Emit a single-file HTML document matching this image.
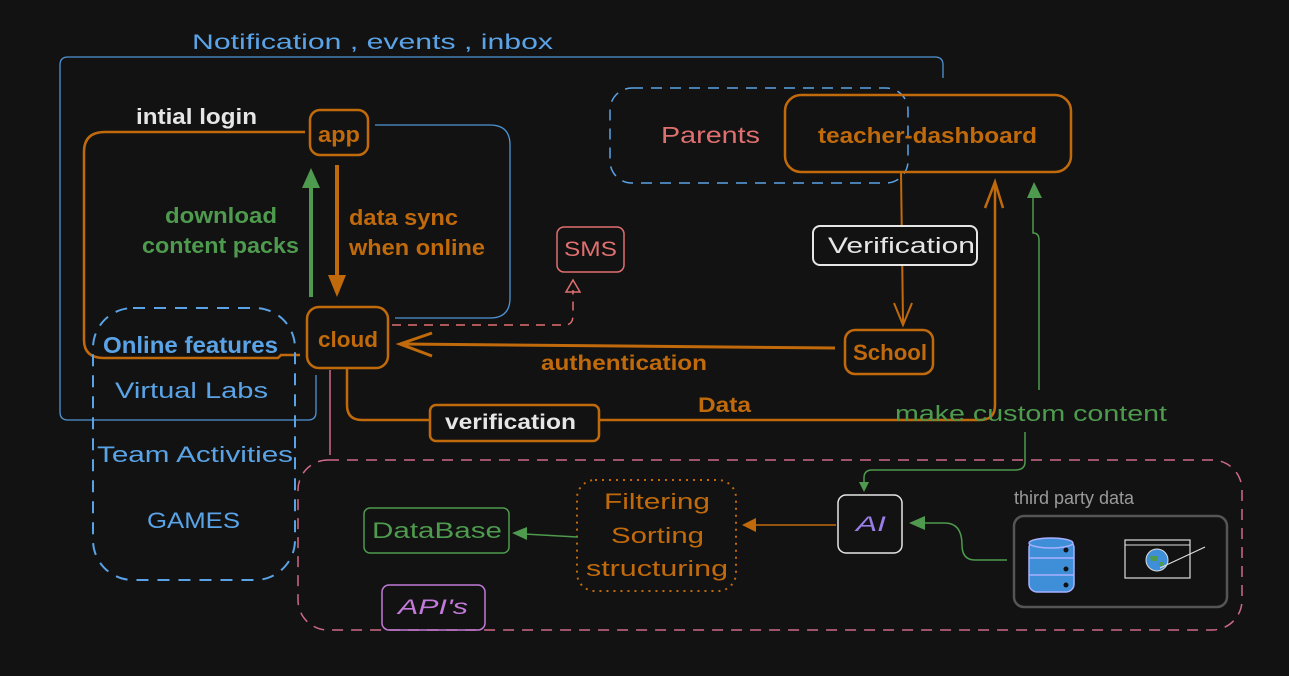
<!DOCTYPE html>
<html><head><meta charset="utf-8"><style>
html,body{margin:0;padding:0;background:#121212;}
svg{display:block;}
.h{font-family:"Liberation Sans",sans-serif;}
.b{font-family:"Liberation Sans",sans-serif;font-weight:bold;}
</style></head><body>
<svg width="1289" height="676" viewBox="0 0 1289 676" xmlns="http://www.w3.org/2000/svg">
<rect width="1289" height="676" fill="#121212"/>
<!-- big blue box -->
<path d="M943,78 V65 Q943,57 935,57 H68 Q60,57 60,65 V412 Q60,420 68,420 H308 Q316,420 316,412 V375" fill="none" stroke="#4f95d6" stroke-width="1.3"/>
<text x="192" y="49" class="h" font-size="21" fill="#5aa3e6" textLength="361" lengthAdjust="spacingAndGlyphs">Notification , events , inbox</text>
<!-- inner blue -->
<path d="M375,125 H490 Q510,125 510,145 V298 Q510,318 490,318 H395" fill="none" stroke="#4f95d6" stroke-width="1.3"/>
<!-- orange login path -->
<path d="M305,132 H105 Q84,132 84,152 V340 Q84,358 104,358 H278 L281,355 H300" fill="none" stroke="#c06a0c" stroke-width="2.5"/>
<text x="136" y="124" class="b" font-size="22" fill="#e6e6e6" textLength="121" lengthAdjust="spacingAndGlyphs">intial login</text>
<rect x="310" y="110" width="58" height="45" rx="10" fill="#121212" stroke="#c06a0c" stroke-width="2.5"/>
<text x="318" y="142" class="b" font-size="22" fill="#c06a0c" textLength="42" lengthAdjust="spacingAndGlyphs">app</text>
<!-- arrows -->
<line x1="311" y1="297" x2="311" y2="182" stroke="#4e9a4e" stroke-width="4"/>
<path d="M302,188 L311,168 L320,188 Z" fill="#4e9a4e"/>
<line x1="337" y1="165" x2="337" y2="282" stroke="#c06a0c" stroke-width="4"/>
<path d="M328,275 L337,297 L346,275 Z" fill="#c06a0c"/>
<text x="165" y="223" class="b" font-size="22" fill="#4e9a4e" textLength="112" lengthAdjust="spacingAndGlyphs">download</text>
<text x="142" y="253" class="b" font-size="22" fill="#4e9a4e" textLength="157" lengthAdjust="spacingAndGlyphs">content packs</text>
<text x="349" y="225" class="b" font-size="22" fill="#c06a0c" textLength="109" lengthAdjust="spacingAndGlyphs">data sync</text>
<text x="349" y="255" class="b" font-size="22" fill="#c06a0c" textLength="136" lengthAdjust="spacingAndGlyphs">when online</text>
<!-- online features -->
<rect x="93" y="308" width="202" height="272" rx="40" fill="none" stroke="#5aa3e6" stroke-width="2" stroke-dasharray="12,9"/>
<text x="103" y="353" class="b" font-size="23" fill="#5aa3e6" textLength="175" lengthAdjust="spacingAndGlyphs">Online features</text>
<text x="115" y="398" class="h" font-size="22" fill="#5aa3e6" textLength="153" lengthAdjust="spacingAndGlyphs">Virtual Labs</text>
<text x="97" y="462" class="h" font-size="22" fill="#5aa3e6" textLength="196" lengthAdjust="spacingAndGlyphs">Team Activities</text>
<text x="147" y="528" class="h" font-size="22" fill="#5aa3e6" textLength="93" lengthAdjust="spacingAndGlyphs">GAMES</text>
<!-- cloud -->
<line x1="330" y1="370" x2="330" y2="455" stroke="#d06a8a" stroke-width="1.5"/>
<path d="M347,368 V405 Q347,420 362,420 H980 Q995,420 995,405 V185" fill="none" stroke="#c06a0c" stroke-width="2.5"/>
<path d="M985,208 L995,182 L1003,208" fill="none" stroke="#c06a0c" stroke-width="2.5"/>
<rect x="307" y="307" width="81" height="61" rx="12" fill="#121212" stroke="#c06a0c" stroke-width="2.5"/>
<text x="318" y="347" class="b" font-size="22" fill="#c06a0c" textLength="60" lengthAdjust="spacingAndGlyphs">cloud</text>
<!-- SMS -->
<path d="M392,325 H565 Q573,325 573,315 V290" fill="none" stroke="#e07070" stroke-width="1.5" stroke-dasharray="9,7"/>
<path d="M566,292 L573,280 L580,292 Z" fill="none" stroke="#e07070" stroke-width="1.5"/>
<rect x="557" y="227" width="67" height="45" rx="7" fill="none" stroke="#e07070" stroke-width="1.5"/>
<text x="564" y="256" class="h" font-size="21" fill="#e07070" textLength="53" lengthAdjust="spacingAndGlyphs">SMS</text>
<!-- parents / dashboard -->
<rect x="610" y="88" width="298" height="95" rx="22" fill="none" stroke="#5aa3e6" stroke-width="1.5" stroke-dasharray="11,8"/>
<text x="661" y="143" class="h" font-size="23" fill="#e07070" textLength="99" lengthAdjust="spacingAndGlyphs">Parents</text>
<rect x="785" y="95" width="286" height="77" rx="16" fill="none" stroke="#c06a0c" stroke-width="2.5"/>
<text x="818" y="143" class="b" font-size="22" fill="#c06a0c" textLength="219" lengthAdjust="spacingAndGlyphs">teacher-dashboard</text>
<line x1="901" y1="172" x2="903" y2="322" stroke="#c06a0c" stroke-width="2"/>
<path d="M894,303 L903,325 L912,303" fill="none" stroke="#c06a0c" stroke-width="2"/>
<rect x="813" y="226" width="164" height="39" rx="7" fill="#121212" stroke="#e6e6e6" stroke-width="2"/>
<text x="828" y="253" class="h" font-size="22" fill="#e6e6e6" textLength="147" lengthAdjust="spacingAndGlyphs">Verification</text>
<rect x="845" y="330" width="88" height="44" rx="10" fill="none" stroke="#c06a0c" stroke-width="2.5"/>
<text x="853" y="360" class="b" font-size="22" fill="#c06a0c" textLength="74" lengthAdjust="spacingAndGlyphs">School</text>
<!-- authentication -->
<line x1="835" y1="348" x2="402" y2="344" stroke="#c06a0c" stroke-width="3"/>
<path d="M432,333 L400,344 L432,356" fill="none" stroke="#c06a0c" stroke-width="3"/>
<text x="541" y="370" class="b" font-size="21" fill="#c06a0c" textLength="166" lengthAdjust="spacingAndGlyphs">authentication</text>
<rect x="430" y="405" width="169" height="36" rx="6" fill="#121212" stroke="#c06a0c" stroke-width="2.5"/>
<text x="445" y="429" class="b" font-size="21" fill="#e6e6e6" textLength="131" lengthAdjust="spacingAndGlyphs">verification</text>
<text x="698" y="412" class="b" font-size="21" fill="#c06a0c" textLength="53" lengthAdjust="spacingAndGlyphs">Data</text>
<!-- green custom content -->
<path d="M1039,390 V240 Q1039,233 1033,233 V195" fill="none" stroke="#4e9a4e" stroke-width="1.5"/>
<path d="M1027,198 L1034,182 L1042,198 Z" fill="#4e9a4e"/>
<text x="895" y="421" class="h" font-size="22" fill="#4e9a4e" textLength="272" lengthAdjust="spacingAndGlyphs">make custom content</text>
<!-- bottom pink box -->
<rect x="298" y="460" width="944" height="170" rx="30" fill="none" stroke="#d06a8a" stroke-width="1.5" stroke-dasharray="11,8"/>
<path d="M1025,432 V462 Q1025,470 1015,470 H872 Q864,470 864,478 V485" fill="none" stroke="#4e9a4e" stroke-width="1.5"/>
<path d="M859,482 L864,492 L869,482 Z" fill="#4e9a4e"/>
<rect x="838" y="495" width="64" height="58" rx="8" fill="none" stroke="#e6e6e6" stroke-width="1.5"/>
<text x="856" y="531" class="h" font-size="21" font-style="italic" fill="#9a7ee8" textLength="30" lengthAdjust="spacingAndGlyphs">AI</text>
<line x1="836" y1="525" x2="752" y2="525" stroke="#c06a0c" stroke-width="1.5"/>
<path d="M756,518 L742,525 L756,532 Z" fill="#c06a0c"/>
<rect x="577" y="480" width="159" height="111" rx="18" fill="none" stroke="#c06a0c" stroke-width="2" stroke-dasharray="2,5"/>
<text x="604" y="509" class="h" font-size="22" fill="#c06a0c" textLength="106" lengthAdjust="spacingAndGlyphs">Filtering</text>
<text x="611" y="543" class="h" font-size="22" fill="#c06a0c" textLength="93" lengthAdjust="spacingAndGlyphs">Sorting</text>
<text x="586" y="576" class="h" font-size="22" fill="#c06a0c" textLength="142" lengthAdjust="spacingAndGlyphs">structuring</text>
<line x1="577" y1="537" x2="524" y2="534" stroke="#4e9a4e" stroke-width="1.5"/>
<path d="M527,527 L512,533 L527,540 Z" fill="#4e9a4e"/>
<rect x="364" y="508" width="145" height="45" rx="6" fill="none" stroke="#4e9a4e" stroke-width="1.5"/>
<text x="372" y="538" class="h" font-size="22" fill="#4e9a4e" textLength="130" lengthAdjust="spacingAndGlyphs">DataBase</text>
<rect x="382" y="585" width="103" height="45" rx="7" fill="none" stroke="#c27ad8" stroke-width="1.5"/>
<text x="398" y="614" class="h" font-size="21" font-style="italic" fill="#c27ad8" textLength="70" lengthAdjust="spacingAndGlyphs">API's</text>
<!-- third party -->
<path d="M1007,560 H975 Q962,560 962,545 Q962,523 945,523 H922" fill="none" stroke="#4e9a4e" stroke-width="1.5"/>
<path d="M925,516 L909,523 L925,530 Z" fill="#4e9a4e"/>
<text x="1014" y="504" class="h" font-size="18" fill="#9a9a9a">third party data</text>
<rect x="1014" y="516" width="213" height="91" rx="10" fill="none" stroke="#555" stroke-width="2.5"/>
<g>
<rect x="1029" y="540" width="45" height="52" rx="8" fill="#3f8fd8" stroke="#a8b0ff" stroke-width="1.5"/>
<ellipse cx="1051" cy="543" rx="22" ry="5" fill="#3f8fd8" stroke="#a8b0ff" stroke-width="1.5"/>
<line x1="1029" y1="558" x2="1074" y2="558" stroke="#a8b0ff" stroke-width="1.5"/>
<line x1="1029" y1="575" x2="1074" y2="575" stroke="#a8b0ff" stroke-width="1.5"/>
<circle cx="1066" cy="550" r="2.5" fill="#121212"/><circle cx="1066" cy="569" r="2.5" fill="#121212"/><circle cx="1066" cy="585" r="2.5" fill="#121212"/>
</g>
<rect x="1125" y="540" width="65" height="38" fill="none" stroke="#ddd" stroke-width="1.2"/>
<line x1="1125" y1="545" x2="1190" y2="545" stroke="#ddd" stroke-width="1"/>
<circle cx="1157" cy="560" r="11" fill="#3f8fd8" stroke="#ddd" stroke-width="1"/>
<path d="M1150,556 h7 v5 h-6 z M1159,562 h5 v4 h-5z" fill="#4e9a4e"/>
<line x1="1160" y1="568" x2="1205" y2="547" stroke="#ddd" stroke-width="1.2"/>
</svg>
</body></html>
